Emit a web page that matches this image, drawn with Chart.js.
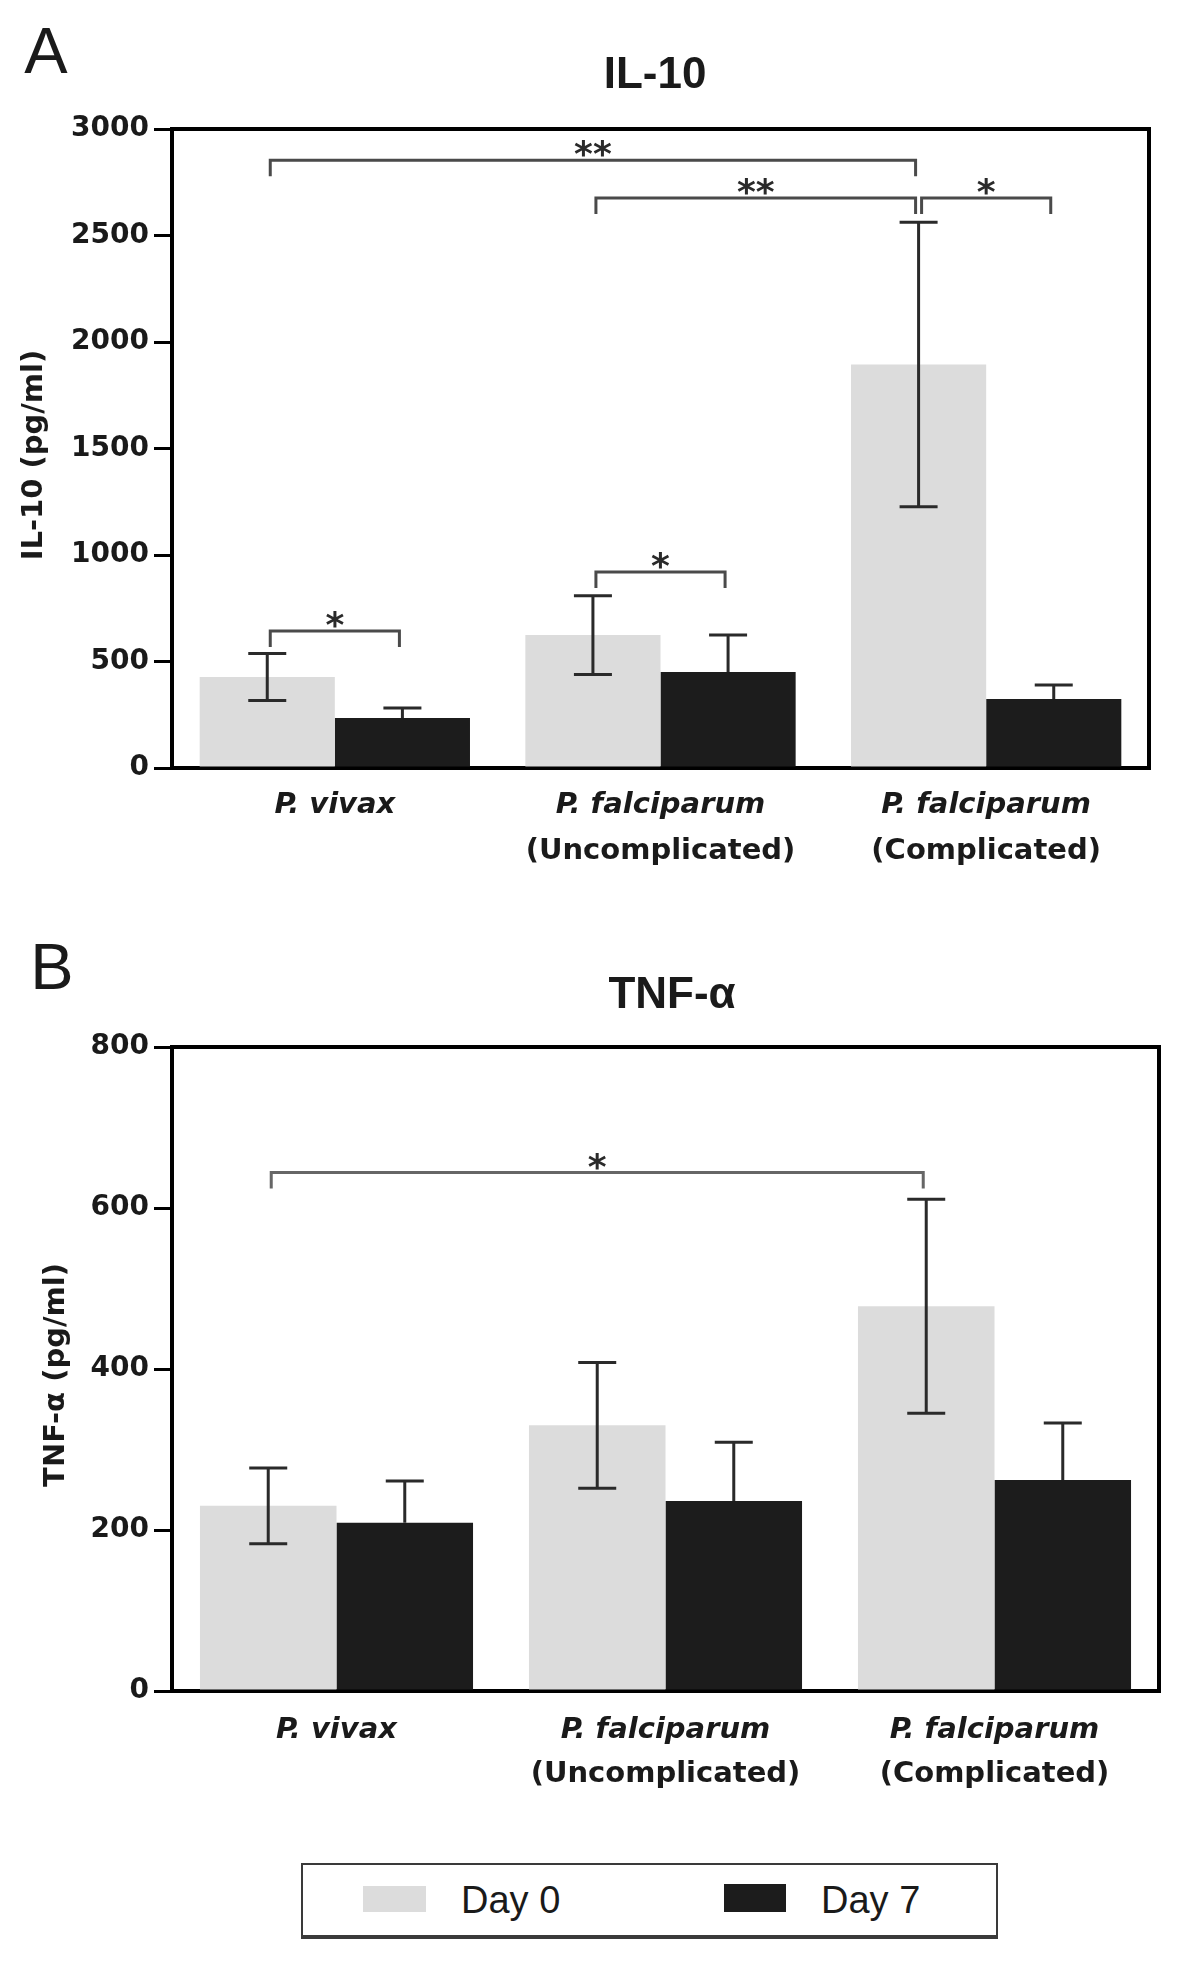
<!DOCTYPE html>
<html>
<head>
<meta charset="utf-8">
<script src="https://cdn.jsdelivr.net/npm/chart.js@4.4.0/dist/chart.umd.min.js"></script>
<style>
  body { margin: 0; background: #fff; width: 1200px; height: 1965px; position: relative; overflow: hidden; }
  canvas { position: absolute; left: 0; }
  #chartA { top: 0; }
  #chartB { top: 900px; }
  #legend {
    position: absolute; left: 301px; top: 1863px; width: 693px; height: 70px;
    border: 2px solid #3a3a3a; border-bottom-width: 4px; background: #fff;
    font-family: "Liberation Sans", Arial, sans-serif; font-size: 38px; color: #1a1a1a;
  }
  #legend .sw { position: absolute; }
  #legend .txt { position: absolute; top: 13px; line-height: 44px; }
</style>
</head>
<body>
<canvas id="chartA" width="1200" height="900"></canvas>
<canvas id="chartB" width="1200" height="940"></canvas>
<div id="legend">
  <span class="sw" style="left:60px; top:21px; width:63px; height:26px; background:#dcdcdc"></span>
  <span class="txt" style="left:158px">Day 0</span>
  <span class="sw" style="left:421px; top:19px; width:62px; height:28px; background:#1c1c1c"></span>
  <span class="txt" style="left:518px">Day 7</span>
</div>
<script>
// Categories (first line italic, second line plain)
const speciesLabels = ['P. vivax', 'P. falciparum', 'P. falciparum'];
const subLabels = ['', '(Uncomplicated)', '(Complicated)'];
const seriesNames = ['Day 0', 'Day 7'];

// A: IL-10 (pg/ml), mean +/- SEM
const il10Day0 = [427, 624, 1894];
const il10Day0Err = [110, 185, 668];
const il10Day7 = [235, 451, 324];
const il10Day7Err = [47, 173, 66];
const il10Ticks = [0, 500, 1000, 1500, 2000, 2500, 3000];

// B: TNF-alpha (pg/ml), mean +/- SEM
const tnfDay0 = [230, 330, 478];
const tnfDay0Err = [47, 78, 133];
const tnfDay7 = [209, 236, 262];
const tnfDay7Err = [52, 73, 71];
const tnfTicks = [0, 200, 400, 600, 800];

// significance brackets: [dataset, category] -> [dataset, category], height in pg/ml
const il10Sig = [
  { from: [0, 0], to: [0, 2], level: 2853, label: '**' },
  { from: [0, 1], to: [0, 2], level: 2676, label: '**' },
  { from: [0, 2], to: [1, 2], level: 2676, label: '*' },
  { from: [0, 0], to: [1, 0], level: 643, label: '*' },
  { from: [0, 1], to: [1, 1], level: 920, label: '*' }
];
const tnfSig = [
  { from: [0, 0], to: [0, 2], level: 644, label: '*' }
];

const BOLD = '"DejaVu Sans", Verdana, sans-serif';

// error bars, brackets, frame, titles and category labels
const decor = {
  id: 'decor',
  afterDatasetsDraw(chart, args, o) {
    const { ctx, scales: { y } } = chart;
    ctx.save();

    // error bars (lower whisker hidden behind the dark bars)
    ctx.strokeStyle = '#2a2a2a';
    ctx.lineWidth = 3;
    chart.data.datasets.forEach((ds, i) => {
      const meta = chart.getDatasetMeta(i);
      ds.data.forEach((v, j) => {
        const px = meta.data[j].x;
        const yTop = y.getPixelForValue(v + ds.errors[j]);
        const yBot = ds.lowerWhisker ? y.getPixelForValue(v - ds.errors[j]) : y.getPixelForValue(v);
        ctx.beginPath();
        ctx.moveTo(px, yTop); ctx.lineTo(px, yBot);
        ctx.moveTo(px - 19, yTop); ctx.lineTo(px + 19, yTop);
        if (ds.lowerWhisker) { ctx.moveTo(px - 19, yBot); ctx.lineTo(px + 19, yBot); }
        ctx.stroke();
      });
    });

    // significance brackets
    ctx.strokeStyle = o.bracketColor;
    ctx.fillStyle = '#2a2a2a';
    ctx.lineWidth = 3;
    ctx.font = 'bold 36px ' + BOLD;
    ctx.textAlign = 'center';
    ctx.textBaseline = 'alphabetic';
    o.sig.forEach(s => {
      const x1 = chart.getDatasetMeta(s.from[0]).data[s.from[1]].x + 3;
      const x2 = chart.getDatasetMeta(s.to[0]).data[s.to[1]].x - 3;
      const ly = y.getPixelForValue(s.level);
      ctx.beginPath();
      ctx.moveTo(x1, ly + 16); ctx.lineTo(x1, ly); ctx.lineTo(x2, ly); ctx.lineTo(x2, ly + 16);
      ctx.stroke();
      ctx.fillText(s.label, (x1 + x2) / 2, ly + 6);
    });

    ctx.restore();
  },
  afterDraw(chart, args, o) {
    const { ctx, chartArea: a, scales: { x } } = chart;
    ctx.save();

    // top and right frame
    ctx.strokeStyle = '#000';
    ctx.lineWidth = 4;
    ctx.beginPath();
    ctx.moveTo(a.left - 2, a.top);
    ctx.lineTo(a.right, a.top);
    ctx.lineTo(a.right, a.bottom + 2);
    ctx.stroke();

    ctx.fillStyle = '#1a1a1a';
    ctx.textAlign = 'center';
    ctx.textBaseline = 'middle';

    // panel letter
    ctx.font = '65px "Liberation Sans", Arial, sans-serif';
    ctx.fillText(o.letter, o.letterX, o.letterY);

    // panel title
    ctx.font = 'bold 44px "Liberation Sans", Arial, sans-serif';
    ctx.fillText(o.title, o.titleX, o.titleY);

    // y axis title
    ctx.save();
    ctx.translate(o.yTitleX, o.yTitleY);
    ctx.rotate(-Math.PI / 2);
    ctx.font = 'bold 29px ' + BOLD;
    ctx.fillText(o.yTitle, 0, 0);
    ctx.restore();

    // category labels
    speciesLabels.forEach((lab, i) => {
      const px = x.getPixelForValue(i);
      ctx.font = 'italic bold 29px ' + BOLD;
      ctx.fillText(lab, px, a.bottom + o.line1);
      if (subLabels[i]) {
        ctx.font = 'bold 29px ' + BOLD;
        ctx.fillText(subLabels[i], px, a.bottom + o.line2);
      }
    });
    ctx.restore();
  }
};

function makeChart(id, day0, err0, day7, err7, ticks, box, panel) {
  return new Chart(document.getElementById(id), {
    type: 'bar',
    data: {
      labels: speciesLabels,
      datasets: [
        { label: seriesNames[0], data: day0, errors: err0, lowerWhisker: true, backgroundColor: '#dcdcdc' },
        { label: seriesNames[1], data: day7, errors: err7, lowerWhisker: false, backgroundColor: '#1c1c1c' }
      ]
    },
    options: {
      responsive: false,
      animation: false,
      devicePixelRatio: 1,
      datasets: { bar: { categoryPercentage: 0.83, barPercentage: 1.0 } },
      layout: { padding: { left: 0, top: box.top, right: box.right, bottom: 0 } },
      plugins: { legend: { display: false }, tooltip: { enabled: false }, decor: panel },
      scales: {
        x: {
          grid: { display: false },
          border: { display: true, color: '#000', width: 4 },
          ticks: { display: false },
          afterFit: s => { s.height = box.xHeight; }
        },
        y: {
          min: ticks[0],
          max: ticks[ticks.length - 1],
          afterBuildTicks: s => { s.ticks = ticks.map(v => ({ value: v })); },
          grid: { drawOnChartArea: false, drawTicks: true, tickLength: 18, tickWidth: 3, tickColor: '#000', lineWidth: 3 },
          border: { display: true, color: '#000', width: 4 },
          ticks: {
            color: '#1a1a1a', padding: 5,
            font: { family: BOLD, size: 28, weight: 'bold' },
            callback: v => String(v)
          },
          afterFit: s => { s.width = 172; }
        }
      }
    },
    plugins: [decor]
  });
}

makeChart('chartA', il10Day0, il10Day0Err, il10Day7, il10Day7Err, il10Ticks,
  { top: 129, right: 51, xHeight: 132 },
  { letter: 'A', letterX: 46, letterY: 55, title: 'IL-10', titleX: 655, titleY: 76,
    yTitle: 'IL-10 (pg/ml)', yTitleX: 34, yTitleY: 455, line1: 37, line2: 83,
    sig: il10Sig, bracketColor: '#4a4a4a' });

makeChart('chartB', tnfDay0, tnfDay0Err, tnfDay7, tnfDay7Err, tnfTicks,
  { top: 147, right: 41, xHeight: 149 },
  { letter: 'B', letterX: 52, letterY: 71, title: 'TNF-α', titleX: 672, titleY: 96,
    yTitle: 'TNF-α (pg/ml)', yTitleX: 56, yTitleY: 475, line1: 39, line2: 83,
    sig: tnfSig, bracketColor: '#666' });
</script>
</body>
</html>
